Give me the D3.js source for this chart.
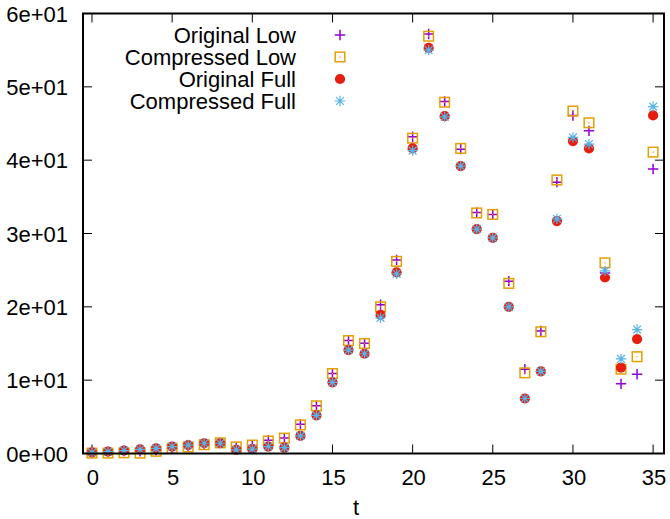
<!DOCTYPE html>
<meta charset="utf-8">
<style>
body { margin: 0; background: #fff; }
text { font-family: "Liberation Sans", Arial, sans-serif; fill: #000; }
</style>
<body>
<script src="https://d3js.org/d3.v7.min.js"></script>
<script>

// time steps
var t = d3.range(0, 36);

// series values
var origLow = [0.2, 0.25, 0.35, 0.3, 0.45, 0.65, 0.95, 1.3, 1.45, 0.8, 1.1, 1.8, 2.1, 4.0, 6.5, 10.9, 15.4, 15.05, 20.3, 26.4,
               43.2, 57.2, 48.0, 41.5, 32.85, 32.6, 23.5, 11.5, 16.7, 37.0, 46.1, 44.0, 24.6, 9.5, 10.8, 38.8];
var compLow = [0.05, 0.05, 0.1, 0.05, 0.3, 0.7, 0.9, 1.2, 1.45, 0.9, 1.15, 1.7, 2.1, 3.9, 6.5, 10.9, 15.4, 15.0, 20.0, 26.2,
               43.0, 56.9, 47.9, 41.6, 32.8, 32.6, 23.2, 11.0, 16.6, 37.3, 46.7, 45.1, 26.0, 11.5, 13.2, 41.1];
var origFull = [0.15, 0.25, 0.4, 0.55, 0.7, 0.95, 1.15, 1.4, 1.4, 0.5, 0.6, 0.95, 0.8, 2.4, 5.2, 9.7, 14.1, 13.6, 18.9, 24.7,
                41.6, 55.3, 46.0, 39.2, 30.6, 29.4, 20.0, 7.5, 11.2, 31.7, 42.6, 41.6, 24.0, 11.7, 15.6, 46.1];
var compFull = [0.15, 0.25, 0.4, 0.55, 0.7, 0.95, 1.15, 1.4, 1.4, 0.5, 0.6, 0.95, 0.8, 2.4, 5.2, 9.7, 14.1, 13.6, 18.5, 24.5,
                41.3, 55.0, 45.9, 39.2, 30.6, 29.4, 20.0, 7.5, 11.2, 32.0, 43.1, 42.2, 24.9, 12.9, 16.9, 47.3];

var seriesNames = ["Original Low", "Compressed Low", "Original Full", "Compressed Full"];
var seriesColors = ["#9400d3", "#e69f00", "#e51e10", "#56b4e9"];

var xTicks = [0, 5, 10, 15, 20, 25, 30, 35];
var yTicks = [0, 10, 20, 30, 40, 50, 60];
var yTickLabels = ["0e+00", "1e+01", "2e+01", "3e+01", "4e+01", "5e+01", "6e+01"];

// plot box
var W = 670, H = 519;
var pLeft = 83, pRight = 664, pTop = 13.5, pBottom = 453.5;

var x = d3.scaleLinear().domain([-0.56, 35.68]).range([pLeft, pRight]);
var y = d3.scaleLinear().domain([0, 60]).range([pBottom, pTop]);

var svg = d3.select("body").append("svg")
    .attr("width", W)
    .attr("height", H);

// ticks (inward, mirrored on all sides)
var tl = 9;
var tg = svg.append("g").attr("stroke", "#000").attr("stroke-width", 1);
xTicks.forEach(function(v) {
  tg.append("line").attr("x1", x(v)).attr("x2", x(v)).attr("y1", pBottom).attr("y2", pBottom - tl);
  tg.append("line").attr("x1", x(v)).attr("x2", x(v)).attr("y1", pTop).attr("y2", pTop + tl);
});
yTicks.forEach(function(v) {
  tg.append("line").attr("x1", pLeft).attr("x2", pLeft + tl).attr("y1", y(v)).attr("y2", y(v));
  tg.append("line").attr("x1", pRight).attr("x2", pRight - tl).attr("y1", y(v)).attr("y2", y(v));
});

// tick labels
svg.append("g").selectAll("text")
  .data(xTicks)
  .enter().append("text")
    .attr("x", function(d) { return x(d) + 1; })
    .attr("y", 485)
    .attr("text-anchor", "middle")
    .style("font-size", "22px")
    .text(function(d) { return d; });

svg.append("g").selectAll("text")
  .data(yTicks)
  .enter().append("text")
    .attr("x", 68)
    .attr("y", function(d) { return y(d) + 8; })
    .attr("text-anchor", "end")
    .style("font-size", "22px")
    .text(function(d, i) { return yTickLabels[i]; });

svg.append("text")
  .attr("x", 356)
  .attr("y", 515)
  .attr("text-anchor", "middle")
  .style("font-size", "22px")
  .text("t");

// marker drawing
function marker(g, kind, cx, cy) {
  var s = 5.2;
  if (kind === 0) {
    g.append("path")
      .attr("d", "M" + (cx - s) + "," + cy + "H" + (cx + s) + "M" + cx + "," + (cy - s) + "V" + (cy + s))
      .attr("stroke", seriesColors[0]).attr("stroke-width", 1.5).attr("fill", "none");
  } else if (kind === 1) {
    g.append("rect")
      .attr("x", cx - 4.8).attr("y", cy - 4.8).attr("width", 9.6).attr("height", 9.6)
      .attr("stroke", seriesColors[1]).attr("stroke-width", 1.5).attr("fill", "none");
    g.append("rect")
      .attr("x", cx - 0.6).attr("y", cy - 0.6).attr("width", 1.2).attr("height", 1.2)
      .attr("fill", seriesColors[1]);
  } else if (kind === 2) {
    g.append("circle")
      .attr("cx", cx).attr("cy", cy).attr("r", 5.1)
      .attr("fill", seriesColors[2]);
  } else {
    var d = 3.9;
    g.append("path")
      .attr("d", "M" + (cx - s) + "," + cy + "H" + (cx + s) + "M" + cx + "," + (cy - s) + "V" + (cy + s) +
                 "M" + (cx - d) + "," + (cy - d) + "L" + (cx + d) + "," + (cy + d) +
                 "M" + (cx - d) + "," + (cy + d) + "L" + (cx + d) + "," + (cy - d))
      .attr("stroke", seriesColors[3]).attr("stroke-width", 1.2).attr("fill", "none");
  }
}

var allSeries = [origLow, compLow, origFull, compFull];

allSeries.forEach(function(vals, k) {
  var g = svg.append("g");
  vals.forEach(function(v, i) {
    marker(g, k, x(t[i]), y(v));
  });
});

// legend
var lg = svg.append("g");
seriesNames.forEach(function(name, k) {
  var ly = 35 + k * 22;
  lg.append("text")
    .attr("x", 296)
    .attr("y", ly + 8)
    .attr("text-anchor", "end")
    .style("font-size", "22px")
    .text(name);
  marker(lg, k, 340, ly);
});

// frame
svg.append("rect")
  .attr("x", pLeft).attr("y", pTop)
  .attr("width", pRight - pLeft).attr("height", pBottom - pTop)
  .attr("fill", "none").attr("stroke", "#000").attr("stroke-width", 2);

</script>
</body>
